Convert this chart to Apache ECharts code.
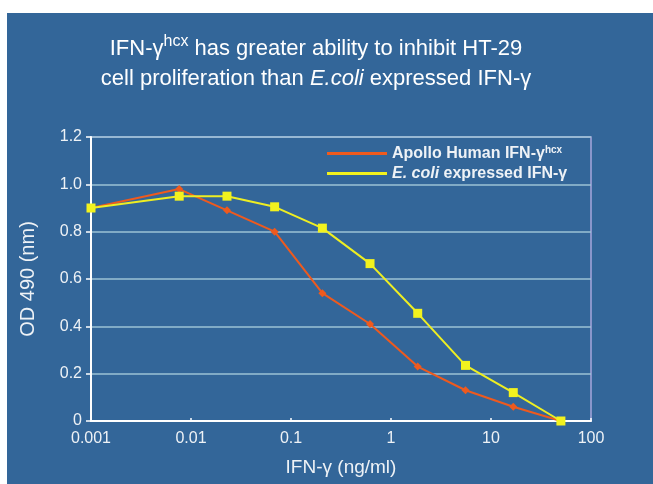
<!DOCTYPE html>
<html>
<head>
<meta charset="utf-8">
<script src="https://cdn.jsdelivr.net/npm/echarts@6/dist/echarts.min.js"></script>
<style>
html,body{margin:0;padding:0;background:#ffffff;}
#chart{width:653px;height:484px;}
</style>
</head>
<body>
<div id="chart"></div>
<script>
// Data
var seriesNames = ['Apollo Human IFN-γhcx', 'E. coli expressed IFN-γ'];
var doses = [0.001, 0.00762, 0.0229, 0.0686, 0.206, 0.617, 1.85, 5.56, 16.7, 50];
var apolloValues = [0.90, 0.98, 0.89, 0.80, 0.54, 0.41, 0.23, 0.13, 0.06, 0.00];
var ecoliValues = [0.90, 0.95, 0.95, 0.905, 0.815, 0.665, 0.455, 0.235, 0.12, 0.00];
var xTickLabels = ['0.001', '0.01', '0.1', '1', '10', '100'];
var yTickLabels = ['0', '0.2', '0.4', '0.6', '0.8', '1.0', '1.2'];

function pairs(xs, ys) {
  return xs.map(function (x, i) { return [x, ys[i]]; });
}

var FONT = 'Liberation Sans, Arial, sans-serif';
var TXT = '#eef2f6';

var chart = echarts.init(document.getElementById('chart'));
chart.setOption({
  backgroundColor: '#ffffff',
  animation: false,
  graphic: [
    { type: 'rect', z: -100, shape: { x: 7, y: 13, width: 646, height: 471 }, style: { fill: '#336699' } },
    {
      type: 'text', x: 316, y: 34, z: 10,
      style: {
        text: '{a|IFN-γ}{s|hcx}{a| has greater ability to inhibit HT-29}\n{a|cell proliferation than }{i|E.coli}{a| expressed IFN-γ}',
        align: 'center',
        fill: '#ffffff',
        font: '22px ' + FONT,
        rich: {
          a: { fontSize: 22, fontFamily: FONT, fill: '#ffffff', lineHeight: 30 },
          s: { fontSize: 16, fontFamily: FONT, fill: '#ffffff', verticalAlign: 'top', lineHeight: 10 },
          i: { fontSize: 22, fontFamily: FONT, fontStyle: 'italic', fill: '#ffffff', lineHeight: 30 }
        }
      }
    }
  ],
  grid: {
    left: 91, right: 62, top: 137, bottom: 63,
    show: true, borderColor: '#a8a6dc', borderWidth: 1.5, backgroundColor: 'transparent'
  },
  legend: {
    left: 322, top: 140,
    orient: 'vertical',
    icon: 'rect',
    itemWidth: 60, itemHeight: 3, itemGap: 4,
    data: seriesNames,
    formatter: function (name) {
      if (name === seriesNames[0]) return '{t|Apollo Human IFN-γ}{s|hcx}';
      return '{i|E. coli}{t| expressed IFN-γ}';
    },
    textStyle: {
      color: TXT, fontFamily: FONT, fontSize: 16, fontWeight: 'bold',
      rich: {
        t: { color: TXT, fontFamily: FONT, fontSize: 16, fontWeight: 'bold', lineHeight: 17 },
        s: { color: TXT, fontFamily: FONT, fontSize: 10, fontWeight: 'bold', verticalAlign: 'top', lineHeight: 10 },
        i: { color: TXT, fontFamily: FONT, fontSize: 16, fontWeight: 'bold', fontStyle: 'italic', lineHeight: 17 }
      }
    }
  },
  xAxis: {
    type: 'log', logBase: 10, min: 0.001, max: 100,
    name: 'IFN-γ (ng/ml)', nameLocation: 'middle', nameGap: 37,
    nameTextStyle: { color: TXT, fontFamily: FONT, fontSize: 19 },
    axisLine: { show: true, lineStyle: { color: '#ffffff', width: 2 } },
    axisTick: { show: true, inside: true, length: 3, lineStyle: { color: '#ffffff', width: 1.5 } },
    splitLine: { show: false },
    minorTick: { show: false },
    axisLabel: {
      color: TXT, fontFamily: FONT, fontSize: 16, margin: 10,
      formatter: function (v) {
        var k = Math.round(Math.log10(v)) + 3;
        return xTickLabels[k] !== undefined ? xTickLabels[k] : '';
      }
    }
  },
  yAxis: {
    type: 'value', min: 0, max: 1.2, interval: 0.2,
    name: 'OD 490 (nm)', nameLocation: 'middle', nameGap: 53,
    nameTextStyle: { color: TXT, fontFamily: FONT, fontSize: 20 },
    axisLine: { show: true, lineStyle: { color: '#ffffff', width: 2 } },
    axisTick: { show: true, length: 5, lineStyle: { color: '#ffffff', width: 1.5 } },
    splitLine: { show: true, lineStyle: { color: '#9cc3d6', width: 1.5 } },
    axisLabel: {
      color: TXT, fontFamily: FONT, fontSize: 16, margin: 9,
      formatter: function (v) {
        var k = Math.round(v / 0.2);
        return yTickLabels[k] !== undefined ? yTickLabels[k] : '';
      }
    }
  },
  series: [
    {
      name: seriesNames[0], type: 'line', data: pairs(doses, apolloValues),
      symbol: 'diamond', symbolSize: 8, z: 3,
      lineStyle: { color: '#ee5a1e', width: 2 },
      itemStyle: { color: '#ee5a1e' }
    },
    {
      name: seriesNames[1], type: 'line', data: pairs(doses, ecoliValues),
      symbol: 'rect', symbolSize: 9, z: 4,
      lineStyle: { color: '#eeee22', width: 2 },
      itemStyle: { color: '#f2f21e' }
    }
  ]
});
</script>
</body>
</html>
